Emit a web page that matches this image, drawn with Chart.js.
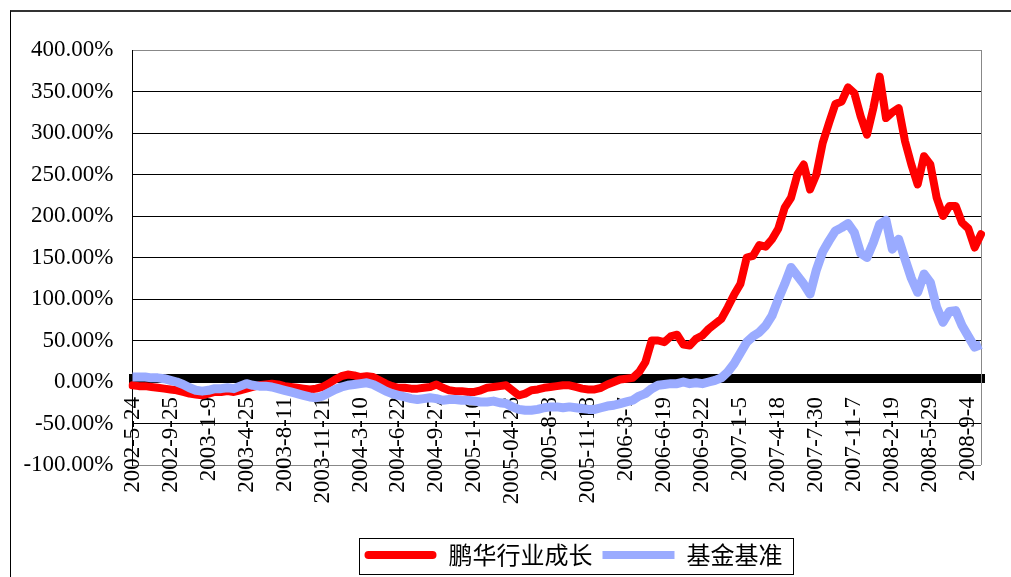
<!DOCTYPE html>
<html>
<head>
<meta charset="utf-8">
<script src="https://cdn.jsdelivr.net/npm/chart.js@4/dist/chart.umd.min.js"></script>
<style>
  html, body { margin: 0; padding: 0; background: #fff; }
  #wrap { position: relative; width: 1011px; height: 577px; }
  #frame { position: absolute; left: 10px; top: 10px; right: 0; bottom: 0;
           border-top: 2px solid #333; border-left: 1px solid #000; pointer-events: none; }
</style>
</head>
<body>
<div id="wrap">
  <canvas id="chart" width="1011" height="577"></canvas>
  <div id="frame"></div>
</div>
<script>
// Dates shown on the category axis (one every 6 points)
const tickDates = [
  '2002-5-24', '2002-9-25', '2003-1-9', '2003-4-25', '2003-8-11', '2003-11-21',
  '2004-3-10', '2004-6-22', '2004-9-27', '2005-1-10', '2005-04-26', '2005-8-8',
  '2005-11-18', '2006-3-7', '2006-6-19', '2006-9-22', '2007-1-5', '2007-4-18',
  '2007-7-30', '2007-11-7', '2008-2-19', '2008-5-29', '2008-9-4'
];
const pointsPerTick = 6;

// Cumulative return, %
const fundReturn = [
  -4, -5, -5, -6, -7, -8, -9, -10, -12, -14,
  -15, -16, -14, -12, -12, -11, -12, -10, -8, -6,
  -4, -3, -2, -3, -5, -6, -7, -8, -9, -8,
  -6, -2, 3, 7, 9, 8, 6, 7, 6, 2,
  -2, -5, -7, -7, -8, -8, -7, -6, -3, -7,
  -10, -11, -11, -12, -12, -10, -7, -6, -5, -4,
  -10, -16, -14, -10, -9, -7, -6, -5, -4, -4,
  -6, -8, -9, -9, -7, -3, 0, 3, 4, 5,
  12, 24, 50, 50, 48, 55, 57, 45, 44, 52,
  56, 64, 70, 76, 90, 105, 118, 150, 152, 165,
  163, 172, 185, 210, 222, 250, 262, 232, 250, 288,
  312, 335, 338, 355, 348, 320, 298, 330, 368, 318,
  325, 330, 290, 262, 238, 272, 262, 222, 200, 212,
  212, 192, 185, 162, 178
];
const benchReturn = [
  6, 6, 6, 5, 5, 4, 2, 0, -3, -7,
  -10, -11, -10, -8, -8, -7, -8, -5, -2, -4,
  -5, -5, -6, -8, -10, -12, -14, -16, -18, -19,
  -17, -13, -9, -6, -4, -3, -2, -1, -3, -7,
  -11, -14, -16, -18, -20, -21, -20, -19, -20, -22,
  -21, -21, -22, -22, -23, -24, -24, -23, -25, -26,
  -30, -33, -34, -34, -33, -31, -30, -30, -31, -30,
  -31, -32, -33, -33, -31, -29, -28, -26, -24, -22,
  -17, -14, -8, -4, -3, -2, -2, 0, -2, -1,
  -2, 0, 2, 5, 12, 22, 35, 48, 55, 60,
  68, 80, 100, 118, 138, 128, 118, 106, 135, 157,
  170, 182, 186, 191, 180, 155, 150, 168, 190, 195,
  160, 172, 148, 125, 108, 130, 120, 90, 72, 85,
  86, 68, 55, 42, 45
];

const labels = fundReturn.map((v, i) =>
  i % pointsPerTick === 0 ? (tickDates[i / pointsPerTick] || '') : '');

// right edge of the plot area in grey
const plotEdge = {
  id: 'plotEdge',
  beforeDatasetsDraw(chart) {
    const { ctx, chartArea } = chart;
    ctx.save();
    ctx.strokeStyle = '#888';
    ctx.lineWidth = 1;
    ctx.beginPath();
    ctx.moveTo(Math.round(chartArea.right) + 0.5, chartArea.top);
    ctx.lineTo(Math.round(chartArea.right) + 0.5, chartArea.bottom);
    ctx.stroke();
    ctx.restore();
  }
};

// legend sits right of centre in the original
const legendShift = {
  id: 'legendShift',
  afterLayout(chart) {
    chart.legend.left += 78;
    chart.legend.right += 78;
  }
};

// box around the legend items
const legendFrame = {
  id: 'legendFrame',
  afterDraw(chart) {
    const boxes = chart.legend.legendHitBoxes;
    if (!boxes || !boxes.length) return;
    const left = Math.min(...boxes.map(b => b.left)) - 6;
    const right = Math.max(...boxes.map(b => b.left + b.width)) + 10;
    const top = Math.min(...boxes.map(b => b.top)) - 5;
    const bottom = Math.max(...boxes.map(b => b.top + b.height)) + 7;
    const ctx = chart.ctx;
    ctx.save();
    ctx.strokeStyle = '#000';
    ctx.lineWidth = 1;
    ctx.strokeRect(Math.round(left) + 0.5, Math.round(top) + 0.5,
                   Math.round(right - left), Math.round(bottom - top));
    ctx.restore();
  }
};

const ctx = document.getElementById('chart').getContext('2d');
const chart = new Chart(ctx, {
  type: 'line',
  data: {
    labels: labels,
    datasets: [{
      label: '鹏华行业成长',
      data: fundReturn,
      borderColor: '#ff0000',
      backgroundColor: '#ff0000',
      borderWidth: 8,
      pointRadius: 0,
      borderJoinStyle: 'round',
      borderCapStyle: 'round',
      order: 1
    }, {
      label: '基金基准',
      data: benchReturn,
      borderColor: '#9aabff',
      backgroundColor: '#9aabff',
      borderWidth: 9,
      pointRadius: 0,
      borderJoinStyle: 'round',
      order: 0
    }]
  },
  options: {
    responsive: false,
    animation: false,
    devicePixelRatio: 1,
    layout: { padding: { left: 10, top: 50, right: 30, bottom: 0 } },
    scales: {
      x: {
        type: 'category',
        position: { y: 0 },
        offset: false,
        border: { display: true, color: '#000', width: 1 },
        grid: { drawOnChartArea: false, drawTicks: true, tickLength: -9, tickWidth: 7, tickColor: '#000' },
        ticks: {
          autoSkip: false, maxRotation: 90, minRotation: 90, padding: 24, color: '#000',
          font: { family: '"Liberation Serif", serif', size: 23 }
        },
        afterFit: s => { s.paddingLeft = 0; s.paddingRight = 0; }
      },
      xs: {
        type: 'category',
        position: 'bottom',
        grid: { display: false },
        border: { display: false },
        ticks: { display: false },
        afterFit: s => { s.height = 68; s.paddingLeft = 0; s.paddingRight = 0; }
      },
      y: {
        min: -100,
        max: 400,
        ticks: {
          stepSize: 50,
          padding: 19,
          color: '#000',
          font: { family: '"Liberation Serif", serif', size: 23 },
          callback: v => v.toFixed(2) + '%'
        },
        grid: {
          drawTicks: false,
          color: c => (c.tick && (c.tick.value === 400 || c.tick.value === -100)) ? '#888' : '#000'
        },
        border: { color: '#000', width: 1 },
        afterFit: s => { s.width = 122.5; }
      }
    },
    plugins: {
      tooltip: { enabled: false },
      legend: {
        position: 'bottom',
        labels: {
          boxWidth: 72,
          boxHeight: 8,
          padding: 10,
          color: '#000',
          useBorderRadius: true,
          font: { family: '"Noto Sans CJK SC", sans-serif', size: 24 },
          sort: (a, b) => a.datasetIndex - b.datasetIndex,
          generateLabels: c => Chart.defaults.plugins.legend.labels.generateLabels(c).map(item => ({
            ...item,
            lineWidth: 0,
            borderRadius: item.datasetIndex === 0 ? 4 : 0
          }))
        }
      }
    }
  },
  plugins: [plotEdge, legendShift, legendFrame]
});
</script>
</body>
</html>
